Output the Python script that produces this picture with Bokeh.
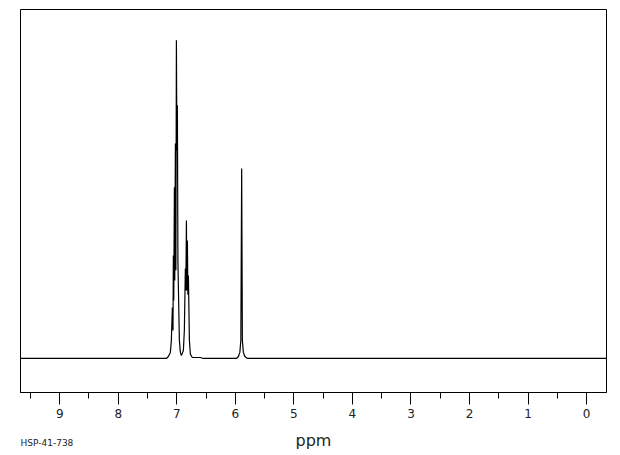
from bokeh.plotting import figure
from bokeh.models import Range1d, FixedTicker
from bokeh.layouts import column
from bokeh.core.properties import value
from bokeh.embed import file_html
from bokeh.resources import INLINE

# spectrum trace (ppm, relative intensity, tallest = 100)
ppm = [9.67, 7.178, 7.144, 7.110, 7.093, 7.076, 7.065, 7.059, 7.052, 7.041, 7.035,
       7.024, 7.016, 7.007, 6.998, 6.990, 6.981, 6.973, 6.956, 6.939, 6.922,
       6.888, 6.871, 6.854, 6.845, 6.836, 6.828, 6.819, 6.811, 6.802, 6.785,
       6.768, 6.734, 6.666, 6.597, 6.546, 5.982, 5.948, 5.923, 5.906, 5.892,
       5.880, 5.863, 5.837, 5.794, -0.34]
intensity = [0.0, 0.0, 0.6, 1.9, 5.7, 16.0, 8.8, 32.4, 18.2, 53.8, 24.5,
             67.6, 27.7, 100.0, 65.4, 79.6, 30.8, 22.3, 5.7, 1.9, 0.9,
             2.5, 8.8, 28.3, 21.4, 43.4, 21.4, 37.1, 20.0, 26.1, 5.7,
             1.3, 0.3, 0.3, 0.3, 0.0, 0.0, 0.6, 1.9, 5.7, 59.7,
             5.7, 1.9, 0.6, 0.0, 0.0]

major_ticks = [0, 1, 2, 3, 4, 5, 6, 7, 8, 9]
minor_ticks = [0.5, 1.5, 2.5, 3.5, 4.5, 5.5, 6.5, 7.5, 8.5, 9.5]
x_label = "ppm"
code_label = "HSP-41-738"

x_rng = Range1d(9.67, -0.34)

p = figure(frame_width=586, frame_height=383, output_backend="svg", toolbar_location=None,
           x_range=x_rng, y_range=Range1d(-10.7, 109.7),
           y_axis_location=None, min_border_left=20, min_border_right=6,
           min_border_top=9, min_border_bottom=38)
p.grid.visible = False
p.outline_line_color = "black"
p.outline_line_width = 1
p.outline_line_alpha = 1
p.background_fill_color = "white"
p.border_fill_color = "white"

p.line(ppm, intensity, line_color="black", line_width=1.2)

ax = p.xaxis[0]
ax.ticker = FixedTicker(ticks=major_ticks, minor_ticks=minor_ticks)
ax.axis_line_color = "black"
ax.major_tick_line_color = "black"
ax.minor_tick_line_color = "black"
ax.major_tick_out = 12
ax.major_tick_in = 0
ax.minor_tick_out = 6
ax.minor_tick_in = 0
ax.major_label_standoff = 4
ax.major_label_text_font = "DejaVu Sans"
ax.major_label_text_font_size = "12px"
ax.major_label_text_color = "#222222"

# strip beneath the axis holding the axis title and the spectrum code
p2 = figure(frame_width=586, frame_height=25, output_backend="svg", toolbar_location=None,
            x_range=x_rng, y_range=Range1d(0, 1), x_axis_location=None,
            y_axis_location=None, min_border_left=20, min_border_right=6,
            min_border_top=0, min_border_bottom=0)
p2.grid.visible = False
p2.outline_line_color = None
p2.background_fill_color = "white"
p2.border_fill_color = "white"

mid = (x_rng.start + x_rng.end) / 2
p2.text(x=[mid], y=[0.6], text=[x_label], text_font=value("DejaVu Sans"),
        text_font_size="16px", text_color="#222222", text_align="center",
        text_baseline="middle")
p2.text(x=[x_rng.start], y=[0.52], text=[code_label], text_font=value("DejaVu Sans"),
        text_font_size="9px", text_color="#222222", text_align="left",
        text_baseline="middle")

layout = column(p, p2, spacing=0)
open("out.html", "w").write(file_html(layout, INLINE))
